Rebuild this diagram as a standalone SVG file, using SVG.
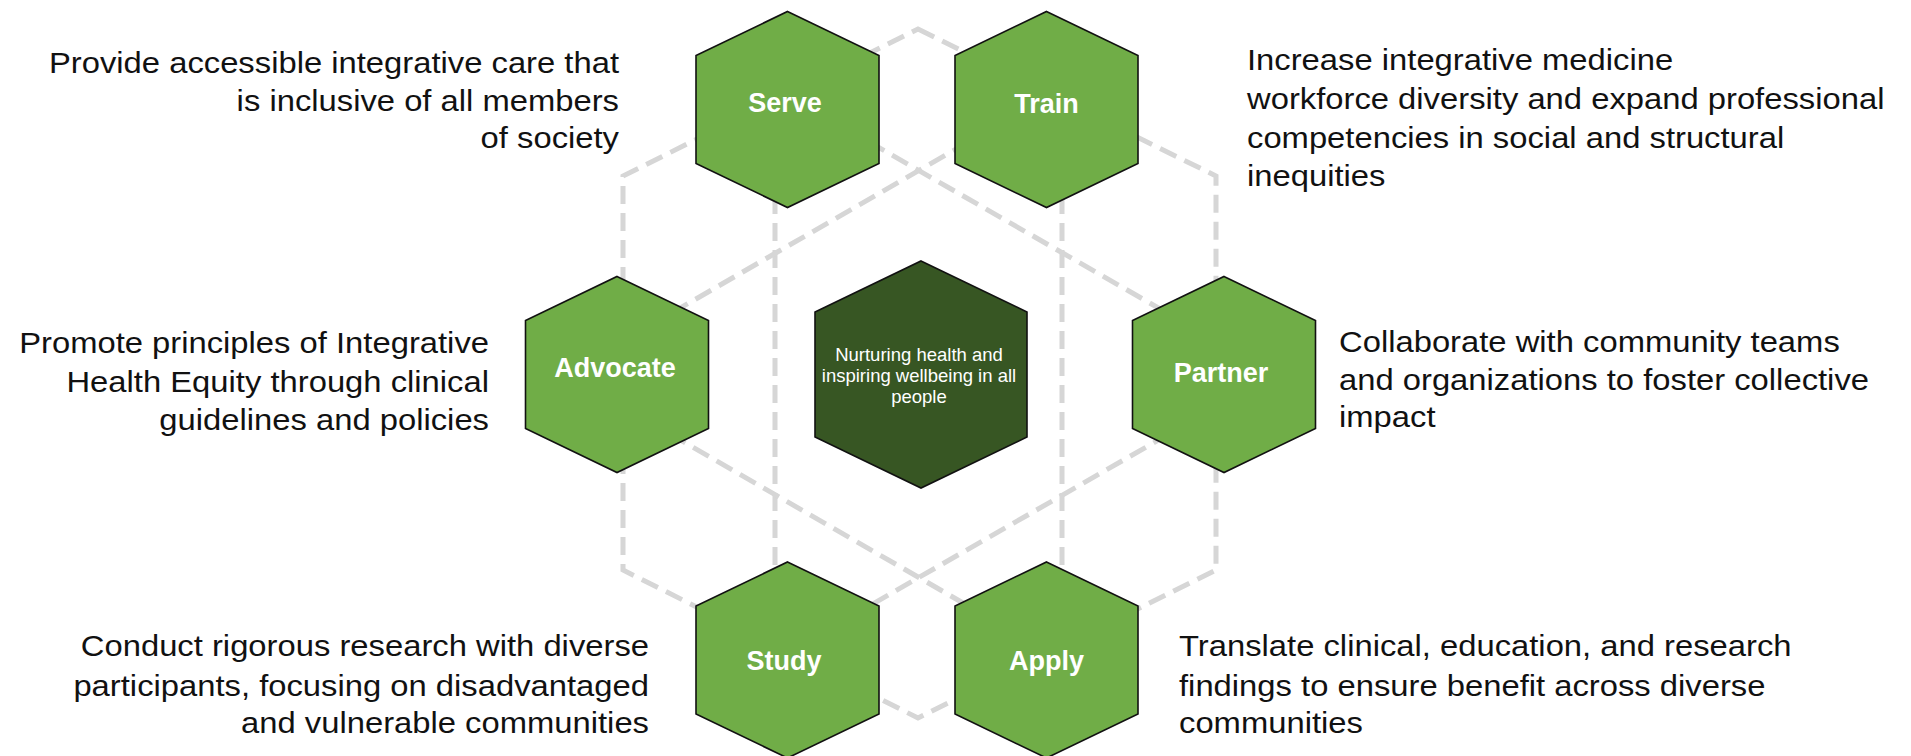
<svg xmlns="http://www.w3.org/2000/svg" xmlns:xlink="http://www.w3.org/1999/xlink" width="1911" height="756" viewBox="0 0 1911 756">
  <style>
    .frame { fill: none; stroke: #d6d6d6; stroke-width: 5; stroke-dasharray: 18 9; }
    .hex { fill: #70ad47; stroke: #111; stroke-width: 1.6; }
    .core { fill: #375623; stroke: #111; stroke-width: 1.6; }
    .lbl { font-family: "Liberation Sans", Arial, sans-serif; font-weight: bold; font-size: 27px; fill: #fff; text-anchor: middle; }
    .core-txt { font-family: "Liberation Sans", Arial, sans-serif; font-size: 18.5px; fill: #fff; text-anchor: middle; }
    .desc { font-family: "Liberation Sans", Arial, sans-serif; font-size: 29px; fill: #111; }
  </style>
  <defs>
    <polygon id="hx" points="0,-98 91.5,-54 91.5,54 0,98 -91.5,54 -91.5,-54"/>
  </defs>

  <rect width="1911" height="756" fill="#fff"/>

  <!-- dashed background frame -->
  <g id="connectors">
    <polygon class="frame" points="918,29 1216,176 1216,570 918,718 623,570 623,176"/>
    <line class="frame" x1="775" y1="88" x2="775" y2="660"/>
    <line class="frame" x1="1062" y1="88" x2="1062" y2="660"/>
    <line class="frame" x1="775" y1="88" x2="1216" y2="341"/>
    <line class="frame" x1="1062" y1="88" x2="623" y2="341"/>
    <line class="frame" x1="623" y1="407" x2="1062" y2="660"/>
    <line class="frame" x1="1216" y1="407" x2="775" y2="660"/>
  </g>

  <!-- centre -->
  <g id="core">
    <polygon class="core" points="921,261 1027,312 1027,437 921,488 815,437 815,312"/>
    <text class="core-txt"><tspan x="919" y="360.5">Nurturing health and</tspan><tspan x="919" y="381.5">inspiring wellbeing in all</tspan><tspan x="919" y="402.5">people</tspan></text>
  </g>

  <!-- six surrounding hexagons -->
  <g id="serve">
    <use xlink:href="#hx" href="#hx" class="hex" transform="translate(787.5,109.5)"/>
    <text class="lbl" x="785" y="112">Serve</text>
  </g>
  <g id="train">
    <use xlink:href="#hx" href="#hx" class="hex" transform="translate(1046.5,109.5)"/>
    <text class="lbl" x="1046.5" y="113">Train</text>
  </g>
  <g id="advocate">
    <use xlink:href="#hx" href="#hx" class="hex" transform="translate(617,374.5)"/>
    <text class="lbl" x="615" y="377">Advocate</text>
  </g>
  <g id="partner">
    <use xlink:href="#hx" href="#hx" class="hex" transform="translate(1224,374.5)"/>
    <text class="lbl" x="1221" y="382">Partner</text>
  </g>
  <g id="study">
    <use xlink:href="#hx" href="#hx" class="hex" transform="translate(787.5,660)"/>
    <text class="lbl" x="784" y="670">Study</text>
  </g>
  <g id="apply">
    <use xlink:href="#hx" href="#hx" class="hex" transform="translate(1046.5,660)"/>
    <text class="lbl" x="1046.5" y="670">Apply</text>
  </g>

  <!-- descriptions -->
  <g id="desc-serve" transform="translate(619,0) scale(1.13,1)">
    <text class="desc" text-anchor="end"><tspan x="0" y="73">Provide accessible integrative care that</tspan><tspan x="0" y="111">is inclusive of all members</tspan><tspan x="0" y="148.5">of society</tspan></text>
  </g>
  <g id="desc-train" transform="translate(1247,0) scale(1.13,1)">
    <text class="desc"><tspan x="0" y="70">Increase integrative medicine</tspan><tspan x="0" y="109.5">workforce diversity and expand professional</tspan><tspan x="0" y="148">competencies in social and structural</tspan><tspan x="0" y="186.5">inequities</tspan></text>
  </g>
  <g id="desc-advocate" transform="translate(489,0) scale(1.13,1)">
    <text class="desc" text-anchor="end"><tspan x="0" y="353">Promote principles of Integrative</tspan><tspan x="0" y="392">Health Equity through clinical</tspan><tspan x="0" y="430">guidelines and policies</tspan></text>
  </g>
  <g id="desc-partner" transform="translate(1339,0) scale(1.13,1)">
    <text class="desc"><tspan x="0" y="352">Collaborate with community teams</tspan><tspan x="0" y="390">and organizations to foster collective</tspan><tspan x="0" y="427.5">impact</tspan></text>
  </g>
  <g id="desc-study" transform="translate(649,0) scale(1.13,1)">
    <text class="desc" text-anchor="end"><tspan x="0" y="656">Conduct rigorous research with diverse</tspan><tspan x="0" y="696">participants, focusing on disadvantaged</tspan><tspan x="0" y="733.5">and vulnerable communities</tspan></text>
  </g>
  <g id="desc-apply" transform="translate(1179,0) scale(1.13,1)">
    <text class="desc"><tspan x="0" y="656">Translate clinical, education, and research</tspan><tspan x="0" y="696">findings to ensure benefit across diverse</tspan><tspan x="0" y="733.5">communities</tspan></text>
  </g>
</svg>
